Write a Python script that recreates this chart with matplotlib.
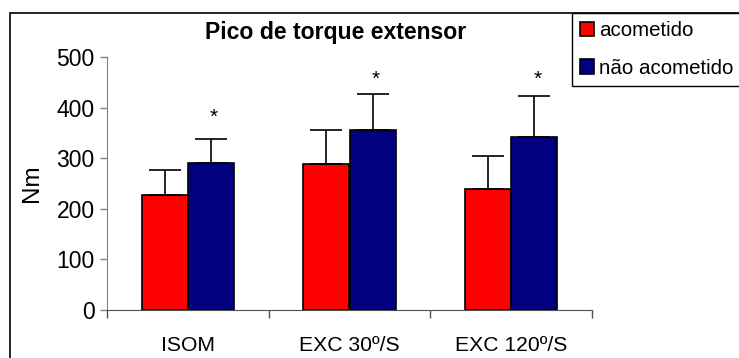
import numpy as np
import matplotlib
matplotlib.use("Agg")
import matplotlib.pyplot as plt
from matplotlib.patches import Rectangle

plt.rcParams['font.family'] = ['Liberation Sans', 'DejaVu Sans']

# Peak extensor torque (Nm), mean and SD per test condition
categories = ["ISOM", "EXC 30º/S", "EXC 120º/S"]
acometido = [227, 289, 239]
acometido_sd = [50, 67, 65]
nao_acometido = [291, 355, 341]
nao_acometido_sd = [47, 72, 82]
star_y = [380, 455, 455]
series_labels = ["acometido", "não acometido"]

fig = plt.figure(figsize=(7.39, 3.58), dpi=100)
ax = fig.add_axes([107 / 739, 1 - 310 / 358, 485 / 739, 253 / 358])

x = np.arange(len(categories))
w = 0.285
err_kw = dict(ecolor="black", elinewidth=1.2, capsize=11.5, capthick=1.2)
ax.bar(x - w / 2, acometido, w, color="#ff0000", edgecolor="black", linewidth=1.2,
       yerr=[np.zeros(3), acometido_sd], error_kw=err_kw, label=series_labels[0])
ax.bar(x + w / 2, nao_acometido, w, color="#000080", edgecolor="black", linewidth=1.2,
       yerr=[np.zeros(3), nao_acometido_sd], error_kw=err_kw, label=series_labels[1])

for xi, sy in zip(x, star_y):
    ax.text(xi + w / 2 + 0.02, sy, "*", ha="center", va="center", fontsize=15)

ax.set_xlim(-0.5, 2.5)
ax.set_ylim(0, 500)
ax.set_yticks(range(0, 501, 100))
ax.tick_params(axis="y", labelsize=16.5, length=5, width=1, color="#808080", pad=4)

# category labels centred, tick marks on the boundaries
ax.set_xticks([-0.5, 0.5, 1.5, 2.5])
ax.set_xticklabels([])
ax.set_xticks(x, minor=True)
ax.set_xticklabels(categories, minor=True, fontsize=15.2)
ax.tick_params(axis="x", which="major", length=6, width=1, color="#505050")
ax.tick_params(axis="x", which="minor", length=0, pad=19)

for s in ["top", "right"]:
    ax.spines[s].set_visible(False)
ax.spines["left"].set_color("#808080")
ax.spines["bottom"].set_color("#505050")

fig.text(336 / 739, 1 - 33 / 358, "Pico de torque extensor", ha="center", va="center",
         fontsize=16.6, fontweight="bold")
fig.text(32 / 739, 1 - 183 / 358, "Nm", rotation=90, ha="center", va="center", fontsize=17.5)

# outer chart border, open at right and bottom
fig.patches.append(Rectangle((10 / 739, -0.2), 1.2, 1.2 - 13 / 358, transform=fig.transFigure,
                             fill=False, edgecolor="black", linewidth=1.2))

leg = fig.legend(loc="upper left", bbox_to_anchor=(572 / 739, 1 - 13 / 358), fontsize=14.8,
                 frameon=True, fancybox=False, edgecolor="black", framealpha=1,
                 borderaxespad=0, handlelength=0.68, handleheight=0.68, handletextpad=0.25,
                 labelspacing=0.9, borderpad=0.4)
leg.get_frame().set_linewidth(1.0)

fig.savefig("out.png", dpi=100)
